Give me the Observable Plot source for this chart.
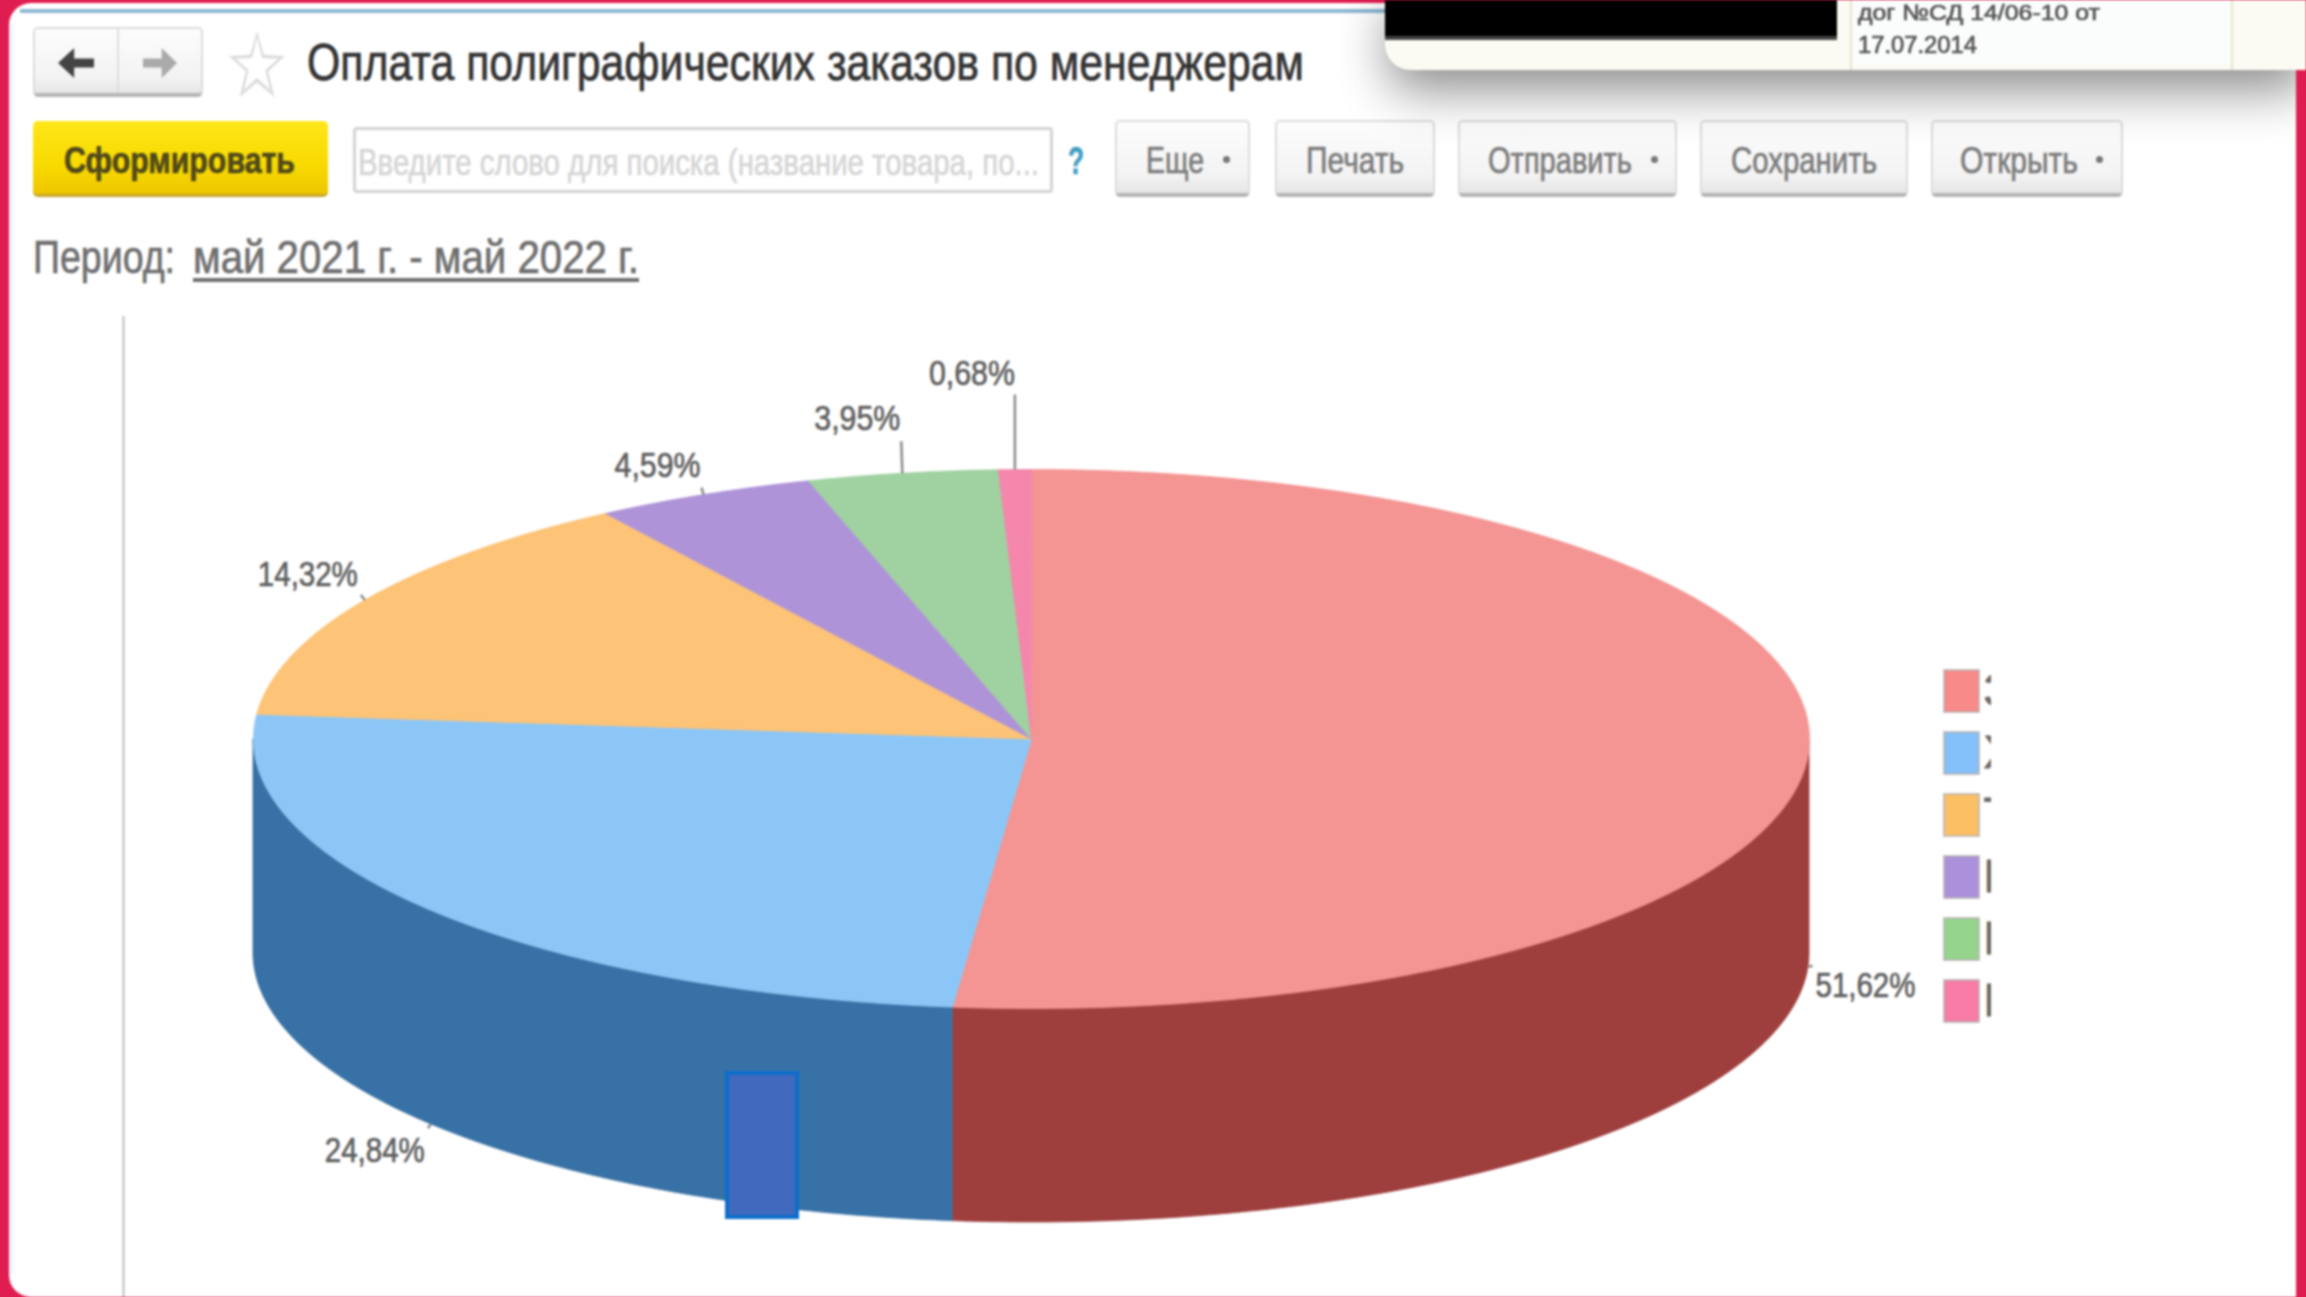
<!DOCTYPE html>
<html lang="ru"><head><meta charset="utf-8">
<script src="https://cdn.jsdelivr.net/npm/d3@7"></script>
<script src="https://cdn.jsdelivr.net/npm/@observablehq/plot@0.6"></script>
<style>
html,body{margin:0;padding:0;background:#e01d50;width:2306px;height:1297px;overflow:hidden}
#page{position:absolute;left:0;top:0;width:2306px;height:1297px;filter:blur(1.1px);overflow:hidden}
#panel{position:absolute;left:9px;top:3px;width:2287px;height:1294px;background:#fff;border-radius:22px 0 0 22px;overflow:hidden}
#plot{position:absolute;left:0;top:0}
.b{position:absolute;box-sizing:border-box}
.t{position:absolute;white-space:nowrap;transform-origin:0 50%;font-family:"Liberation Sans",Arial,sans-serif;line-height:1;-webkit-text-stroke:.7px currentColor}
.btn{background:linear-gradient(#fdfdfd,#f3f3f3 75%,#e6e6e6);border:2px solid #dcdcdc;border-bottom:4px solid #b5b5b5;border-radius:5px}
</style></head><body>
<div id="page"><div id="panel"></div><div id="plot"></div><div id="chrome"></div></div>
<script>
// Chart data
const managers = ["З","Х","Т","П","П","К"];
const shares = [51.62,24.84,14.32,4.59,3.95,0.68];
const shareLabels = ["51,62%","24,84%","14,32%","4,59%","3,95%","0,68%"];
const topColors = ["#f49593","#8cc6f6","#fdc376","#ae93d8","#a0d1a1","#f487ab"];
const wallColors = ["#9e3f3d","#3871a5"];
const legendColors = ["#f98a8a","#84c0fa","#fcc064","#ab90dc","#95d48d","#f87ba8"];

// Pie layout (screen space)
const cx=1031, cy=738.5, rx=778, ry=269.5, depth=214;
const labelOffset=[[57,19],[-56,27],[-57,-25],[-46,-29],[-45,-54],[-43,-96]];
const leaderEnd=[[4,-1],[-3,4],[-4,-5],[-2,-7],[-1,-32],[0,-75]];
const labelWidth=[100,100,100,86,86,86];
const px=t=>cx+rx*Math.sin(t), py=t=>cy-ry*Math.cos(t);

let cum=0;
const slices=shares.map((v,i)=>{const a=cum/100*2*Math.PI;cum+=v;const b=cum/100*2*Math.PI;return {i,v,a,b,mid:(a+b)/2}});
slices[slices.length-1].b=2*Math.PI;

function arc(a,b){const n=Math.max(2,Math.ceil((b-a)*80));return d3.range(n+1).map(k=>a+(b-a)*k/n)}
const wedges=slices.map(s=>[{x:cx,y:cy},...arc(s.a,s.b).map(t=>({x:px(t),y:py(t)}))]);
const walls=[slices[0],slices[1]].map(s=>arc(Math.max(s.a,Math.PI/2),Math.min(s.b,3*Math.PI/2)).map(t=>({x:px(t),y1:py(t),y2:py(t)+depth})));

const edge=slices.map((s,i)=>{const front=Math.cos(s.mid)<0;const x=px(s.mid),y=py(s.mid)+(front||i===0?depth:0);return {x,y,i}});
edge[0].y=py(slices[0].mid)+depth;
const labels=edge.map((e,i)=>({x:e.x+labelOffset[i][0],y:e.y+labelOffset[i][1],text:shareLabels[i]}));
const leaders=edge.map((e,i)=>({x1:e.x,y1:e.y,x2:e.x+leaderEnd[i][0],y2:e.y+leaderEnd[i][1]}));
const legend=managers.map((m,i)=>({m,i,y1:670+i*62,y2:712+i*62,color:legendColors[i]}));

const chart=Plot.plot({
  width:2306,height:1297,margin:0,
  x:{type:"linear",domain:[0,2306],range:[0,2306],axis:null},
  y:{type:"linear",domain:[0,1297],range:[0,1297],axis:null},
  style:{background:"transparent",overflow:"visible"},
  marks:[
    Plot.ruleX([123],{y1:316,y2:1297,stroke:"#bdbdbd",strokeWidth:2}),
    ...walls.map((w,i)=>Plot.areaY(w,{x:"x",y1:"y1",y2:"y2",fill:wallColors[i],stroke:wallColors[i],strokeWidth:.8})),
    ...wedges.map((w,i)=>Plot.line(w,{x:"x",y:"y",curve:"linear-closed",fill:topColors[i],stroke:topColors[i],strokeWidth:.8})),
    Plot.link(leaders,{x1:"x1",y1:"y1",x2:"x2",y2:"y2",stroke:"#8a8a8a",strokeWidth:2.5}),
    Plot.text(labels,{x:"x",y:"y",text:"text",fill:"#5f5f5f",stroke:"#5f5f5f",strokeWidth:.7,fontSize:35,fontFamily:"Liberation Sans",textAnchor:"middle",className:"pct"}),
    Plot.rect(legend,{x1:()=>1944,x2:()=>1979,y1:"y1",y2:"y2",fill:"color",stroke:"#b5b0ae",strokeWidth:1.5}),
    Plot.text(legend,{x:()=>1983,y:d=>(d.y1+d.y2)/2,text:"m",fill:"#666",stroke:"#666",strokeWidth:.8,fontSize:46,fontFamily:"Liberation Sans",textAnchor:"start"})
  ]
});
document.getElementById("plot").append(chart);
chart.querySelectorAll(".pct text").forEach((el,i)=>{
  el.setAttribute("textLength",labelWidth[i]);el.setAttribute("lengthAdjust","spacingAndGlyphs");
});

// Window chrome around the chart
const root=document.getElementById("chrome");
function box(x,y,w,h,css,cls){const d=document.createElement("div");d.className="b "+(cls||"");d.style.cssText=`left:${x}px;top:${y}px;width:${w}px;height:${h}px;`+(css||"");root.append(d);return d}
function text(s,x1,x2,yc,size,color,weight,extra){const d=document.createElement("div");d.className="t";d.textContent=s;
  d.style.cssText=`left:${x1}px;top:${yc-size/2}px;font-size:${size}px;color:${color};font-weight:${weight||400};`+(extra||"");root.append(d);
  d.style.transform=`scaleX(${(x2-x1)/d.getBoundingClientRect().width})`;return d}

box(1991,650,60,400,"background:#fff");                 // legend cut-off
box(20,9,1370,4,"background:#8db8d2");
box(10,24,3,1250,"background:#e8f4fb");
box(725,1071,74,148,"background:#4169bd;border:4px solid #0c6ecb");

// nav row
box(33,27,170,70,"","btn");
box(117,29,2,64,"background:#dedede");
box(58,48,36,30,"background:#444;clip-path:polygon(0 50%,45% 0,45% 35%,100% 35%,100% 65%,45% 65%,45% 100%)");
box(143,48,34,30,"background:#aaa;clip-path:polygon(100% 50%,55% 0,55% 35%,0 35%,0 65%,55% 65%,55% 100%)");
box(229,31,56,66,"background:#dcdcdc;clip-path:polygon(50% 0,62% 36%,100% 38%,70% 61%,81% 100%,50% 78%,19% 100%,30% 61%,0 38%,38% 36%,50% 0,50% 10%,41% 41%,12% 42%,35% 59%,27% 89%,50% 71%,73% 89%,65% 59%,88% 42%,59% 41%,50% 10%)");
text("Оплата полиграфических заказов по менеджерам",307,1304,62,52,"#333",400);

// toolbar
box(33,121,295,76,"background:linear-gradient(#ffe61a,#f8da00 60%,#eec600);border-radius:5px;border-bottom:3px solid #c7a82a");
text("Сформировать",64,295,160,37,"#50491a",700);
box(353,127,700,66,"background:#fff;border:3px solid #d3d3d3;border-radius:4px");
text("Введите слово для поиска (название товара, по...",358,1039,162,37,"#d6d6d6",400);
text("?",1068,1084,161,38,"#3f9fc2",700);
const btns=[["Еще",1115,1250,1146,1204,1227],["Печать",1275,1435,1306,1404],["Отправить",1458,1677,1488,1632,1655],["Сохранить",1700,1908,1731,1877],["Открыть",1931,2123,1960,2078,2100]];
btns.forEach(([s,x1,x2,t1,t2,dot])=>{box(x1,120,x2-x1,77,"","btn");text(s,t1,t2,160,37,"#7c7c7c",400);
  if(dot)box(dot-4,156,7,7,"background:#777;border-radius:50%")});

// period
text("Период:",33,175,257,46,"#6e6e6e",400);
text("май 2021 г. - май 2022 г.",193,639,257,46,"#6e6e6e",400);
box(193,278,446,4,"background:#707070");

// overlapping popup window fragment
box(1385,-20,925,90,"background:#fcfbf3;border-radius:0 0 0 26px;box-shadow:0 24px 50px -4px rgba(0,0,0,.45)");
box(1385,0,452,36,"background:#000");
box(1385,36,452,4,"background:#444");
box(1852,0,379,64,"background:#fbfdfc");
box(1850,0,2,70,"background:#e8e4d2");
box(2231,0,2,70,"background:#e8e4d2");
text("дог №СД 14/06-10 от",1858,2100,13,22,"#555",400);
text("17.07.2014",1858,1977,45,23,"#555",400);
box(2296,70,10,1227,"background:#e01d50");
</script>
</body></html>
